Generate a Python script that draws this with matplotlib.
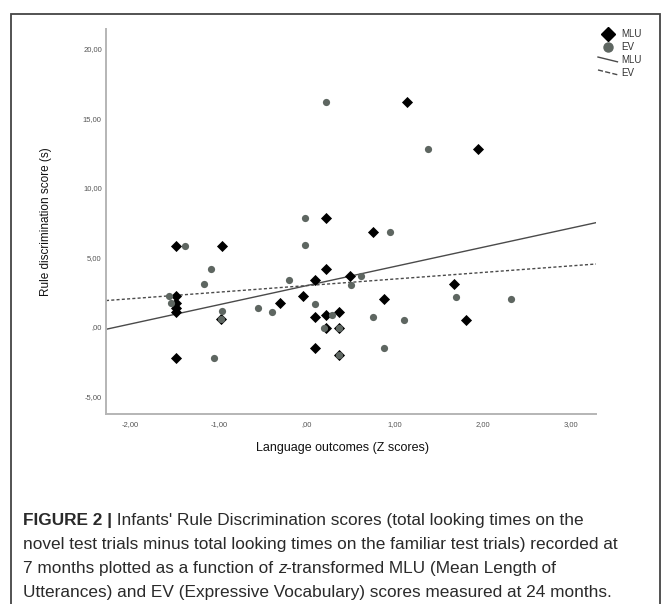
import numpy as np
import matplotlib
matplotlib.use('Agg')
import matplotlib.pyplot as plt
from matplotlib.lines import Line2D
from matplotlib.legend_handler import HandlerBase
from matplotlib.patches import Rectangle
from matplotlib import font_manager

# ---------------- data ----------------
mlu_x = [-1.49, -0.96, -1.49, -1.49, -1.49, -1.49, -1.49, -0.97, -0.30, -0.04,
         0.09, 0.095, 0.095, 0.22, 0.22, 0.22, 0.22, 0.36, 0.36, 0.36,
         0.485, 0.75, 0.88, 1.14, 1.67, 1.80, 1.94]
mlu_y = [5.85, 5.85, 2.2, 1.7, 1.35, 1.05, -2.25, 0.55, 1.7, 2.2,
         3.35, 0.7, -1.5, 7.85, 4.15, 0.85, -0.05, 1.1, -0.05, -2.0,
         3.7, 6.8, 2.0, 16.2, 3.1, 0.53, 12.8]
ev_x = [-1.57, -1.54, -1.38, -1.17, -1.09, -1.05, -0.96, -0.97, -0.55, -0.40,
        -0.20, -0.02, -0.02, 0.095, 0.19, 0.22, 0.29, 0.36, 0.36, 0.50,
        0.61, 0.75, 0.88, 0.94, 1.10, 1.37, 1.69, 2.32]
ev_y = [2.25, 1.75, 5.85, 3.1, 4.15, -2.25, 1.15, 0.55, 1.4, 1.1,
        3.4, 7.85, 5.9, 1.65, -0.05, 16.2, 0.85, -0.05, -2.0, 3.05,
        3.7, 0.7, -1.5, 6.8, 0.5, 12.8, 2.15, 2.0]
mlu_fit = [1.38, 2.98]   # slope, intercept
ev_fit = [0.473, 2.98]
x_ticks = [-2, -1, 0, 1, 2, 3]
x_tick_labels = ['-2,00', '-1,00', ',00', '1,00', '2,00', '3,00']
y_ticks = [-5, 0, 5, 10, 15, 20]
y_tick_labels = ['-5,00', ',00', '5,00', '10,00', '15,00', '20,00']
legend_labels = ['MLU', 'EV', 'MLU', 'EV']
x_label = 'Language outcomes (Z scores)'
y_label = 'Rule discrimination score (s)'

# ---------------- figure ----------------
W, H = 670, 604
fig = plt.figure(figsize=(W / 100, H / 100), dpi=100)
fig.patch.set_facecolor('white')
plt.rcParams['font.family'] = ['Liberation Sans', 'DejaVu Sans']

def fx(px):
    return px / W

def fy(py):
    return 1 - py / H

ev_color = '#5e6661'
line_color = '#4a4a4a'
dash = (0, (2.2, 1.6))

ax = fig.add_axes([fx(106), fy(414), (596 - 106) / W, (414 - 29) / H])
ax.set_xlim(-2.28, 3.28)
ax.set_ylim(-6.26, 21.44)

xs = np.array(ax.get_xlim())
ax.plot(xs, mlu_fit[0] * xs + mlu_fit[1], color=line_color, lw=1.0, zorder=2)
ax.plot(xs, ev_fit[0] * xs + ev_fit[1], color=line_color, lw=1.0, linestyle=dash, zorder=2)

ax.scatter(mlu_x, mlu_y, marker='D', s=32, color='black', linewidths=0, zorder=3)
ax.scatter(ev_x, ev_y, marker='o', s=27, color=ev_color, linewidths=0, zorder=4)

for s in ['top', 'right']:
    ax.spines[s].set_visible(False)
for s in ['left', 'bottom']:
    ax.spines[s].set_color('#b5b5b5')
    ax.spines[s].set_linewidth(1.4)

ax.set_xticks(x_ticks)
ax.set_xticklabels(x_tick_labels)
ax.set_yticks(y_ticks)
ax.set_yticklabels(y_tick_labels)
ax.tick_params(length=0, labelsize=5.5, labelcolor='#555555')
ax.tick_params(axis='x', pad=5)
ax.tick_params(axis='y', pad=3)

fig.text(fx(46), fy(222), y_label, rotation=90, ha='center', va='center',
         fontsize=8.5, color='#111111')
fig.text(fx(342), fy(448), x_label, ha='center', va='center',
         fontsize=9, color='#111111')

# legend
class SlantLineHandler(HandlerBase):
    def create_artists(self, legend, orig_handle, xdescent, ydescent,
                       width, height, fontsize, trans):
        l = Line2D([-xdescent, -xdescent + width],
                   [-ydescent + height * 0.85, -ydescent + height * 0.15],
                   color=orig_handle.get_color(),
                   linestyle=orig_handle.get_linestyle(),
                   linewidth=orig_handle.get_linewidth(),
                   transform=trans)
        return [l]

h1 = Line2D([], [], marker='D', color='black', linestyle='none', markersize=7.5)
h2 = Line2D([], [], marker='o', color=ev_color, linestyle='none', markersize=6.5)
h3 = Line2D([], [], color=line_color, lw=1.0)
h4 = Line2D([], [], color=line_color, lw=1.0, linestyle=dash)
leg = fig.legend([h1, h2, h3, h4], legend_labels, loc='upper left',
                 bbox_to_anchor=(fx(598), fy(29)), frameon=False,
                 fontsize=7, handlelength=2.0, handletextpad=0.4,
                 labelspacing=0.3, borderpad=0, borderaxespad=0,
                 handler_map={h3: SlantLineHandler(), h4: SlantLineHandler()})
for t in leg.get_texts():
    t.set_color('#333333')

# outer frame
fig.add_artist(Rectangle((fx(11), fy(700)), (660 - 11) / W, (700 - 14) / H,
                         transform=fig.transFigure, fill=False,
                         ec='#444444', lw=1.3))

# caption
available = {f.name for f in font_manager.fontManager.ttflist}
if 'Liberation Sans Narrow' in available:
    cap_family = ['Liberation Sans Narrow', 'Liberation Sans', 'DejaVu Sans']
    cap_size = 15.0
else:
    cap_family = ['Liberation Sans', 'DejaVu Sans']
    cap_size = 12.4
renderer = fig.canvas.get_renderer()

def draw_pieces(x_px, y_px, pieces):
    x = x_px
    for txt, weight, style in pieces:
        t = fig.text(fx(x), fy(y_px), txt, fontsize=cap_size, fontweight=weight,
                     fontstyle=style, family=cap_family, ha='left',
                     va='baseline', color='#2a2a2a')
        bb = t.get_window_extent(renderer)
        x += bb.width

caption_lines = [
    [('FIGURE 2 |', 'bold', 'normal'),
     (" Infants' Rule Discrimination scores (total looking times on the", 'normal', 'normal')],
    [('novel test trials minus total looking times on the familiar test trials) recorded at', 'normal', 'normal')],
    [('7 months plotted as a function of ', 'normal', 'normal'),
     ('z', 'normal', 'italic'),
     ('-transformed MLU (Mean Length of', 'normal', 'normal')],
    [('Utterances) and EV (Expressive Vocabulary) scores measured at 24 months.', 'normal', 'normal')],
]
for i, pieces in enumerate(caption_lines):
    draw_pieces(23, 525 + 24 * i, pieces)

fig.savefig('out.png', dpi=100)
